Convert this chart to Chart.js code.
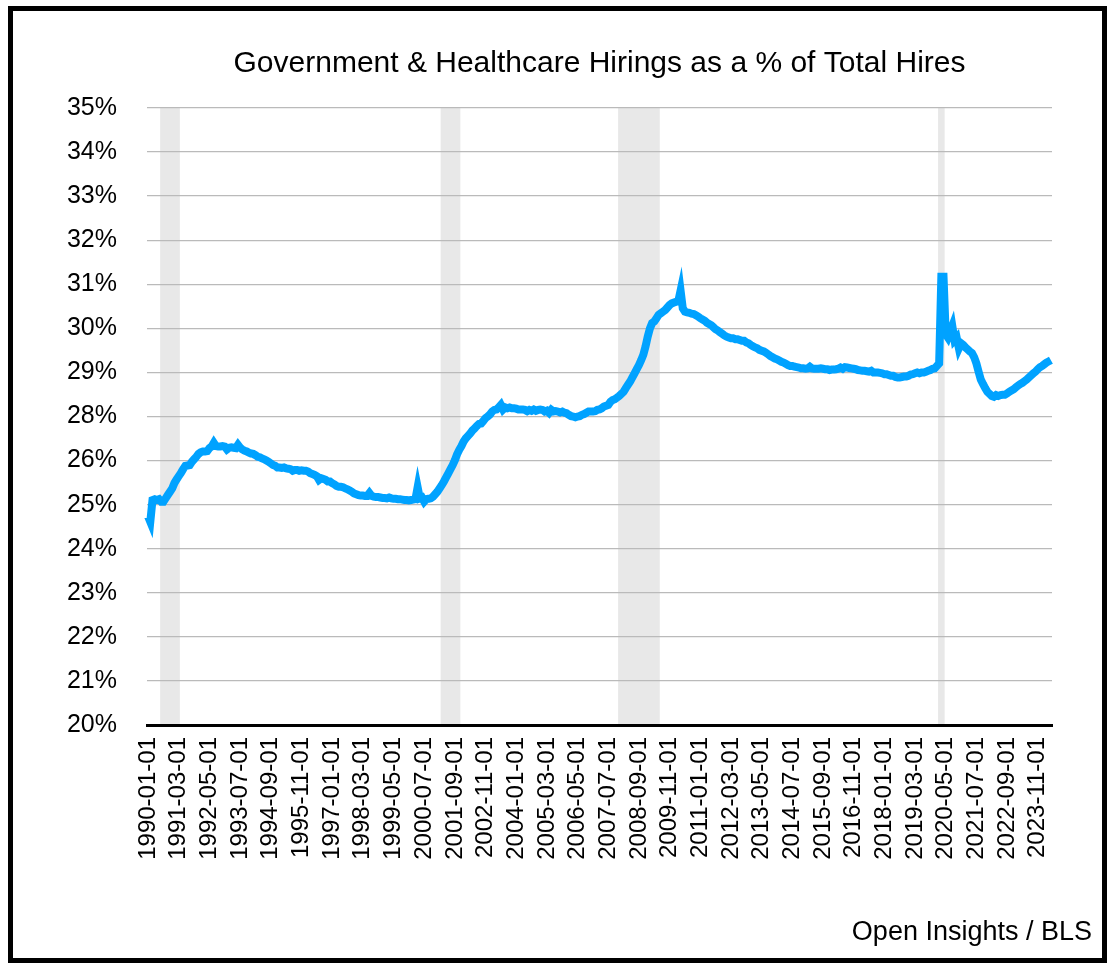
<!DOCTYPE html>
<html>
<head>
<meta charset="utf-8">
<title>Government & Healthcare Hirings</title>
<script src="https://cdn.jsdelivr.net/npm/chart.js@4.4.1/dist/chart.umd.min.js"></script>
<style>
    body { margin: 0; background: #fff; }
    #frame { position: absolute; left: 8px; top: 6px; width: 1099px; height: 957px; border: 5px solid #000; box-sizing: border-box; }
    #wrap { position: absolute; left: 0; top: 0; width: 1114px; height: 966px; }
</style>
</head>
<body>
<div id="frame"></div>
<div id="wrap"><canvas id="chart"></canvas></div>
<script>
'use strict';

// Share of hires, monthly from 1990-01 (percent)
const share1990s = [
    25.07, 24.94, 25.47, 25.49, 25.47, 25.49, 25.43, 25.43, 25.51, 25.59, 25.67, 25.75,
    25.88, 25.97, 26.05, 26.13, 26.22, 26.30, 26.31, 26.32, 26.40, 26.46, 26.52, 26.59,
    26.63, 26.65, 26.65, 26.66, 26.73, 26.77, 26.86, 26.78, 26.77, 26.77, 26.78, 26.77,
    26.70, 26.74, 26.75, 26.74, 26.73, 26.81, 26.74, 26.70, 26.67, 26.65, 26.62, 26.60,
    26.59, 26.56, 26.52, 26.51, 26.48, 26.46, 26.43, 26.40, 26.36, 26.32, 26.30, 26.26,
    26.26, 26.25, 26.26, 26.24, 26.23, 26.22, 26.18, 26.20, 26.20, 26.18, 26.19, 26.18,
    26.18, 26.16, 26.12, 26.10, 26.08, 26.05, 25.96, 26.00, 25.98, 25.96, 25.92, 25.92,
    25.88, 25.85, 25.81, 25.79, 25.79, 25.78, 25.75, 25.73, 25.70, 25.67, 25.63, 25.61,
    25.59, 25.58, 25.58, 25.57, 25.57, 25.64, 25.57, 25.55, 25.54, 25.54, 25.53, 25.52,
    25.52, 25.51, 25.53, 25.51, 25.50, 25.50, 25.49, 25.49, 25.48, 25.47, 25.47, 25.46
];
const share2000s = [
    25.47, 25.48, 25.49, 25.78, 25.51, 25.53, 25.43, 25.49, 25.50, 25.51, 25.55, 25.61,
    25.67, 25.75, 25.83, 25.92, 26.02, 26.12, 26.22, 26.32, 26.44, 26.58, 26.69, 26.78,
    26.89, 26.97, 27.03, 27.09, 27.16, 27.21, 27.27, 27.32, 27.33, 27.39, 27.46, 27.50,
    27.55, 27.62, 27.66, 27.67, 27.72, 27.78, 27.67, 27.72, 27.70, 27.72, 27.70, 27.70,
    27.69, 27.67, 27.67, 27.67, 27.66, 27.63, 27.66, 27.64, 27.67, 27.64, 27.66, 27.67,
    27.66, 27.62, 27.64, 27.59, 27.66, 27.62, 27.63, 27.62, 27.60, 27.62, 27.59, 27.58,
    27.54, 27.51, 27.50, 27.48, 27.50, 27.51, 27.54, 27.56, 27.59, 27.62, 27.62, 27.62,
    27.63, 27.66, 27.67, 27.70, 27.74, 27.76, 27.78, 27.86, 27.90, 27.92, 27.96, 28.00,
    28.05, 28.10, 28.19, 28.27, 28.35, 28.45, 28.55, 28.65, 28.75, 28.87, 29.00, 29.20,
    29.44, 29.64, 29.77, 29.81, 29.89, 29.97, 30.01, 30.05, 30.09, 30.15, 30.21, 30.25
];
const share2010s = [
    30.27, 30.29, 30.31, 30.56, 30.13, 30.05, 30.03, 30.02, 30.00, 29.99, 29.96, 29.93,
    29.89, 29.86, 29.83, 29.78, 29.75, 29.72, 29.67, 29.62, 29.59, 29.55, 29.51, 29.47,
    29.44, 29.42, 29.40, 29.40, 29.38, 29.38, 29.36, 29.34, 29.34, 29.30, 29.28, 29.24,
    29.21, 29.18, 29.16, 29.12, 29.10, 29.08, 29.05, 29.01, 28.97, 28.94, 28.91, 28.89,
    28.86, 28.83, 28.81, 28.78, 28.75, 28.73, 28.73, 28.71, 28.70, 28.69, 28.67, 28.67,
    28.66, 28.67, 28.71, 28.67, 28.66, 28.66, 28.66, 28.67, 28.66, 28.65, 28.65, 28.63,
    28.64, 28.64, 28.65, 28.66, 28.69, 28.66, 28.70, 28.69, 28.68, 28.67, 28.66, 28.65,
    28.63, 28.62, 28.61, 28.61, 28.60, 28.59, 28.61, 28.57, 28.57, 28.57, 28.56, 28.55,
    28.53, 28.53, 28.51, 28.49, 28.49, 28.46, 28.45, 28.45, 28.46, 28.47, 28.47, 28.49,
    28.52, 28.53, 28.55, 28.57, 28.55, 28.57, 28.57, 28.59, 28.61, 28.63, 28.66, 28.67
];
const share2020s = [
    28.73, 28.79, 30.90, 30.90, 29.50, 29.42, 29.56, 29.70, 29.36, 29.42, 29.16, 29.28,
    29.24, 29.18, 29.13, 29.08, 29.04, 28.94, 28.79, 28.59, 28.40, 28.29, 28.19, 28.10,
    28.05, 28.00, 27.98, 28.02, 28.00, 28.02, 28.03, 28.03, 28.06, 28.10, 28.13, 28.16,
    28.21, 28.25, 28.29, 28.32, 28.36, 28.40, 28.45, 28.50, 28.55, 28.59, 28.65, 28.70,
    28.73, 28.77, 28.81, 28.84, 28.87
];

// Recession bands (NBER)
const recessionStart = ['1990-07-01', '2001-03-01', '2007-12-01', '2020-02-01'];
const recessionEnd = ['1991-03-01', '2001-11-01', '2009-06-01', '2020-04-01'];

// Axis
const yTickLabels = ['20%', '21%', '22%', '23%', '24%', '25%', '26%', '28%',
    '29%', '30%', '31%', '32%', '33%', '34%', '35%'];
const yMin = 20;
const yMax = 35;
const xLabelEvery = 14;

const titleText = 'Government & Healthcare Hirings as a % of Total Hires';
const sourceText = 'Open Insights / BLS';

const shares = [...share1990s, ...share2000s, ...share2010s, ...share2020s];
let months = [];
for (let i = 0; i < shares.length; i++) {
    const year = 1990 + Math.floor(i / 12);
    const month = String(i % 12 + 1).padStart(2, '0');
    months.push(`${year}-${month}-01`);
}

const FONT = '"Liberation Sans", Arial, Helvetica, sans-serif';

const decor = {
    id: 'decor',
    beforeDraw(chart) {
        const ctx = chart.ctx;
        const area = chart.chartArea;
        const x = chart.scales.x;
        const half = (x.getPixelForValue(1) - x.getPixelForValue(0)) / 2;
        ctx.save();
        ctx.fillStyle = '#e8e8e8';
        for (let k = 0; k < recessionStart.length; k++) {
            const left = x.getPixelForValue(months.indexOf(recessionStart[k])) - half;
            const right = x.getPixelForValue(months.indexOf(recessionEnd[k])) + half;
            ctx.fillRect(left, area.top, right - left, area.bottom - area.top);
        }
        ctx.restore();
    },
    afterDraw(chart) {
        const ctx = chart.ctx;
        const area = chart.chartArea;
        ctx.save();
        ctx.fillStyle = '#000';
        ctx.textBaseline = 'alphabetic';
        ctx.font = '30px ' + FONT;
        ctx.textAlign = 'center';
        ctx.fillText(titleText, (area.left + area.right) / 2, 72);
        ctx.font = '27px ' + FONT;
        ctx.textAlign = 'right';
        ctx.fillText(sourceText, 1092, 940);
        ctx.restore();
    }
};

const ctx = document.getElementById('chart').getContext('2d');
const chart = new Chart(ctx, {
    type: 'line',
    data: {
        labels: months,
        datasets: [{
            label: 'Share of hires',
            data: shares,
            borderColor: '#00a2ff',
            backgroundColor: '#00a2ff',
            borderWidth: 8,
            pointRadius: 0,
            tension: 0,
            fill: false
        }]
    },
    options: {
        responsive: true,
        maintainAspectRatio: false,
        animation: false,
        layout: {
            padding: { top: 108, right: 62, bottom: 0, left: 0 }
        },
        scales: {
            x: {
                type: 'category',
                offset: true,
                grid: { display: false, drawTicks: false },
                border: { display: true, color: '#000', width: 3 },
                ticks: {
                    autoSkip: false,
                    minRotation: 90,
                    maxRotation: 90,
                    padding: 12,
                    color: '#000',
                    font: { family: FONT, size: 24 },
                    callback: (v, i) => (i % xLabelEvery == 0) ? months[i] : ''
                },
                afterFit: (s) => { s.height = 241; }
            },
            y: {
                min: yMin,
                max: yMax,
                grid: { color: '#bababa', lineWidth: 1.3, drawTicks: false },
                border: { display: false },
                ticks: {
                    padding: 30,
                    color: '#000',
                    font: { family: FONT, size: 25 },
                    callback: (v, i) => yTickLabels[i]
                },
                afterBuildTicks: (s) => {
                    s.ticks = yTickLabels.map((l, k) => ({
                        value: yMin + k * (yMax - yMin) / (yTickLabels.length - 1)
                    }));
                },
                afterFit: (s) => { s.width = 147; }
            }
        },
        plugins: {
            legend: { display: false },
            tooltip: { enabled: false },
            title: { display: false }
        }
    },
    plugins: [decor]
});
</script>
</body>
</html>
